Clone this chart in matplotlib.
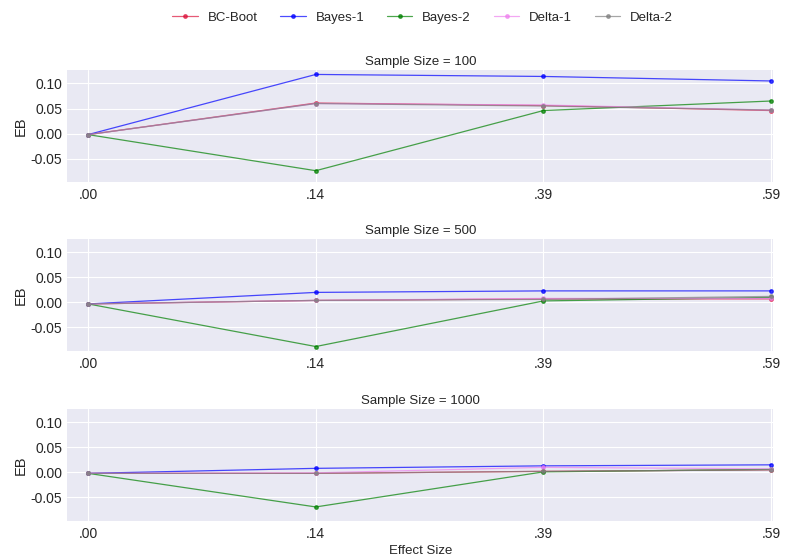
import numpy as np
import matplotlib
matplotlib.use("Agg")
import matplotlib.pyplot as plt
import seaborn as sns

# ── Data ──────────────────────────────────────────────────────────────────────
EFFECT_LABELS = [".00", ".14", ".39", ".59"]
SAMPLE_SIZES  = [100, 500, 1000]
METHODS       = ["BC-Boot", "Bayes-1", "Bayes-2", "Delta-1", "Delta-2"]

# EB per method, one row per sample size (100, 500, 1000)
bc_boot = [[-0.002, 0.061, 0.056, 0.046],
           [-0.003, 0.004, 0.007, 0.007],
           [-0.002, -0.002, 0.002, 0.005]]
bayes_1 = [[-0.002, 0.118, 0.114, 0.105],
           [-0.003, 0.020, 0.023, 0.023],
           [-0.002, 0.008, 0.013, 0.015]]
bayes_2 = [[-0.002, -0.074, 0.046, 0.065],
           [-0.003, -0.088, 0.003, 0.010],
           [-0.002, -0.069, 0.001, 0.006]]
delta_1 = [[-0.002, 0.060, 0.057, 0.047],
           [-0.003, 0.004, 0.008, 0.008],
           [-0.002, -0.001, 0.010, 0.007]]
delta_2 = [[-0.002, 0.060, 0.055, 0.047],
           [-0.003, 0.004, 0.006, 0.012],
           [-0.002, -0.002, 0.002, 0.005]]

COLORS = ["crimson", "blue", "green", "violet", "gray"]

sns.set_style("darkgrid", {"axes.facecolor": "#E9E9F3", "grid.color": "white"})
plt.rcParams["font.family"] = ["Liberation Sans", "DejaVu Sans"]

fig = plt.figure(figsize=(7.9, 5.59), dpi=100)
bottoms = [0.674, 0.372, 0.068]
x = np.arange(len(EFFECT_LABELS))
series = [bc_boot, bayes_1, bayes_2, delta_1, delta_2]

for i, (n, b) in enumerate(zip(SAMPLE_SIZES, bottoms)):
    ax = fig.add_axes([0.085, b, 0.894, 0.2])
    for name, vals, c in zip(METHODS, series, COLORS):
        ax.plot(x, vals[i], color=c, lw=0.9, alpha=0.7, marker="o",
                markersize=2.5, label=name)
    ax.set_xlim(-0.092, 3.01)
    ax.set_ylim(-0.097, 0.126)
    ax.set_xticks(x)
    ax.set_xticklabels(EFFECT_LABELS)
    ax.set_yticks([-0.05, 0.0, 0.05, 0.10])
    ax.set_yticklabels(["-0.05", "0.00", "0.05", "0.10"])
    ax.tick_params(labelsize=10, length=0)
    ax.tick_params(axis="x", pad=4)
    ax.tick_params(axis="y", pad=3.5)
    ax.set_ylabel("EB", fontsize=10.5, labelpad=2)
    ax.set_title(f"Sample Size = {n}", fontsize=9.5, pad=4)
    for s in ax.spines.values():
        s.set_visible(False)
    if i == 0:
        handles, labels = ax.get_legend_handles_labels()
    if i == 2:
        ax.set_xlabel("Effect Size", fontsize=9.5, labelpad=3)

fig.legend(handles, labels, loc="upper center", bbox_to_anchor=(0.535, 1.0),
           ncol=5, frameon=False, fontsize=9.5, handlelength=1.9,
           handletextpad=0.75, columnspacing=1.75)

fig.savefig("out.png", dpi=100)
